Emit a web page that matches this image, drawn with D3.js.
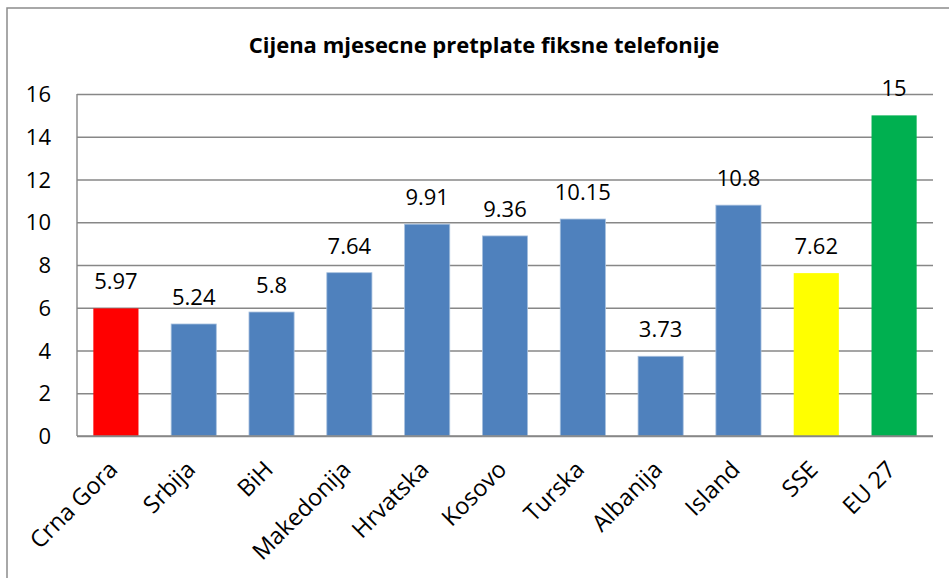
<!DOCTYPE html>
<html><head><meta charset="utf-8">
<script src="https://cdn.jsdelivr.net/npm/d3@7"></script>
<style>body{margin:0;background:#fff}svg{display:block}</style>
</head><body>
<svg id="c" width="949" height="578"></svg>
<script>
const title = "Cijena mjesecne pretplate fiksne telefonije";
const categories = ["Crna Gora","Srbija","BiH","Makedonija","Hrvatska","Kosovo","Turska","Albanija","Island","SSE","EU 27"];
const values = [5.97,5.24,5.8,7.64,9.91,9.36,10.15,3.73,10.8,7.62,15];
const labels = ["5.97","5.24","5.8","7.64","9.91","9.36","10.15","3.73","10.8","7.62","15"];
const colors = ["#FF0000","#4F81BD","#4F81BD","#4F81BD","#4F81BD","#4F81BD","#4F81BD","#4F81BD","#4F81BD","#FFFF00","#00B050"];
const yTicks = [0,2,4,6,8,10,12,14,16];

const svg = d3.select("#c");
const font = "'Open Sans', sans-serif";
const m = {left:77, right:933, top:94, bottom:436};

svg.append("rect").attr("x",7).attr("y",8).attr("width",1000).attr("height",1000)
  .attr("fill","none").attr("stroke","#8c8c8c").attr("stroke-width",1.5);

svg.append("text").attr("x",484).attr("y",53).attr("text-anchor","middle")
  .attr("font-family",font).attr("font-weight","bold").attr("font-size",22).attr("fill","#000").text(title);

const x = d3.scaleBand().domain(categories).range([m.left,m.right]).paddingInner(0.42).paddingOuter(0.21);
const y = d3.scaleLinear().domain([0,16]).range([m.bottom,m.top]);

// gridlines
const gAxis = svg.append("g").attr("transform",`translate(${m.left},0)`)
  .call(d3.axisLeft(y).tickValues(yTicks).tickSize(-(m.right-m.left)).tickPadding(26).tickFormat(d3.format("d")));
gAxis.select(".domain").remove();
gAxis.selectAll(".tick line").attr("stroke","#878787").attr("stroke-width",1.4);
gAxis.selectAll(".tick text").attr("font-family",font).attr("font-size",22).attr("fill","#000").attr("dy","0.35em");

// bars
svg.append("g").selectAll("rect").data(values).join("rect")
  .attr("x",(d,i)=>x(categories[i]))
  .attr("y",d=>y(d))
  .attr("width",x.bandwidth())
  .attr("height",d=>y(0)-y(d))
  .attr("fill",(d,i)=>colors[i])
  .attr("stroke",(d,i)=>colors[i]==="#4F81BD"?"#A7C0DE":"none")
  .attr("stroke-width",0.8);

// axis lines
svg.append("line").attr("x1",m.left).attr("x2",m.left).attr("y1",m.top).attr("y2",m.bottom).attr("stroke","#878787").attr("stroke-width",1.4);
svg.append("line").attr("x1",m.left).attr("x2",m.right).attr("y1",m.bottom).attr("y2",m.bottom).attr("stroke","#878787").attr("stroke-width",1.4);

// data labels
svg.append("g").selectAll("text").data(values).join("text")
  .attr("x",(d,i)=>x(categories[i])+x.bandwidth()/2)
  .attr("y",d=>y(d)-19)
  .attr("text-anchor","middle").attr("font-family",font).attr("font-size",22).attr("fill","#000")
  .text((d,i)=>labels[i]);

// x labels
svg.append("g").selectAll("text").data(categories).join("text")
  .attr("transform",d=>`translate(${x(d)+x.bandwidth()/2+3},${m.bottom+35}) rotate(-45)`)
  .attr("text-anchor","end").attr("font-family",font).attr("font-size",23.5).attr("fill","#000")
  .text(d=>d);
</script>
</body></html>
